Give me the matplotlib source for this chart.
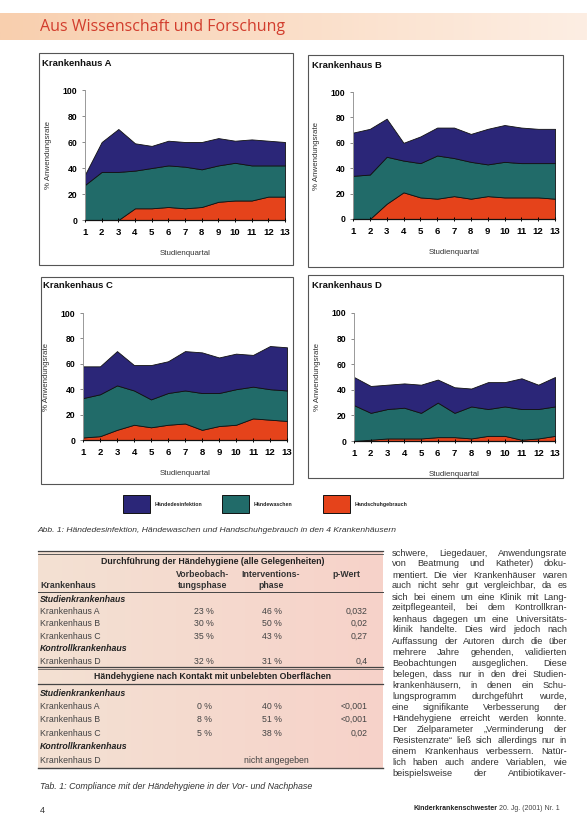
import matplotlib
matplotlib.use("Agg")
import matplotlib.pyplot as plt
import numpy as np
from matplotlib.patches import Rectangle
from matplotlib.lines import Line2D

W, H = 587, 838
SANS = ["Liberation Sans", "DejaVu Sans"]
plt.rcParams["font.family"] = SANS

NAVY = "#2b2678"
TEAL = "#216b69"
RED = "#e5431b"

QUARTERS = list(range(1, 14))

# band heights in % Anwendungsrate (gloves bottom, washing middle, disinfection top)
gloves_a = [0, 0, 0, 9, 9, 10, 9, 10, 14, 15, 15, 18, 18]
washing_a = [27, 37, 37, 29, 31, 32, 32, 29, 28, 29, 27, 24, 24]
disinf_a = [8, 23, 33, 21, 17, 19, 19, 21, 21, 17, 20, 19, 18]

gloves_b = [0, 0, 12, 21, 17, 16, 18, 16, 18, 17, 17, 17, 16]
washing_b = [34, 35, 37, 25, 27, 34, 30, 29, 25, 28, 27, 27, 28]
disinf_b = [34, 36, 30, 14, 21, 22, 24, 22, 28, 29, 28, 27, 27]

gloves_c = [2, 3, 8, 12, 10, 12, 13, 8, 11, 12, 17, 16, 15]
washing_c = [31, 33, 35, 27, 22, 25, 26, 29, 26, 28, 25, 24, 24]
disinf_c = [25, 22, 27, 20, 27, 25, 31, 32, 28, 28, 25, 34, 34]

gloves_d = [0, 1, 2, 2, 2, 3, 3, 2, 4, 4, 1, 2, 4]
washing_d = [28, 21, 23, 24, 20, 27, 19, 25, 21, 23, 24, 23, 23]
disinf_d = [22, 21, 19, 19, 22, 18, 20, 14, 21, 19, 24, 19, 23]

LEGEND_LABELS = ["Händedesinfektion", "Händewaschen", "Handschuhgebrauch"]

# table 1
TABLE_HEAD_1 = "Durchführung der Händehygiene (alle Gelegenheiten)"
TABLE_HEAD_2 = "Händehygiene nach Kontakt mit unbelebten Oberflächen"
rows_all = [
    ("Studienkrankenhaus", None, None, None),
    ("Krankenhaus A", "23 %", "46 %", "0,032"),
    ("Krankenhaus B", "30 %", "50 %", "0,02"),
    ("Krankenhaus C", "35 %", "43 %", "0,27"),
    ("Kontrollkrankenhaus", None, None, None),
    ("Krankenhaus D", "32 %", "31 %", "0,4"),
]
rows_surface = [
    ("Studienkrankenhaus", None, None, None),
    ("Krankenhaus A", "0 %", "40 %", "<0,001"),
    ("Krankenhaus B", "8 %", "51 %", "<0,001"),
    ("Krankenhaus C", "5 %", "38 %", "0,02"),
    ("Kontrollkrankenhaus", None, None, None),
    ("Krankenhaus D", "nicht angegeben", None, None),
]

BODY_LINES = [
    "schwere, Liegedauer, Anwendungsrate",
    "von Beatmung und Katheter) doku-",
    "mentiert. Die vier Krankenhäuser waren",
    "auch nicht sehr gut vergleichbar, da es",
    "sich bei einem um eine Klinik mit Lang-",
    "zeitpflegeanteil, bei dem Kontrollkran-",
    "kenhaus dagegen um eine Universitäts-",
    "klinik handelte. Dies wird jedoch nach",
    "Auffassung der Autoren durch die über",
    "mehrere Jahre gehenden, validierten",
    "Beobachtungen ausgeglichen. Diese",
    "belegen, dass nur in den drei Studien-",
    "krankenhäusern, in denen ein Schu-",
    "lungsprogramm durchgeführt wurde,",
    "eine signifikante Verbesserung der",
    "Händehygiene erreicht werden konnte.",
    "Der Zielparameter „Verminderung der",
    "Resistenzrate“ ließ sich allerdings nur in",
    "einem Krankenhaus verbessern. Natür-",
    "lich haben auch andere Variablen, wie",
    "beispielsweise der Antibiotikaver-",
]


def fx(px):
    return px / W


def fy(py):
    return 1 - py / H


fig = plt.figure(figsize=(W / 100, H / 100), dpi=100)
fig.patch.set_facecolor("white")


def put(x, y, s, **kw):
    kw.setdefault("va", "center")
    return fig.text(fx(x), fy(y), s, **kw)


def gradient(x0, y0, x1, y1, c_left, c_right):
    ax = fig.add_axes([fx(x0), fy(y1), fx(x1) - fx(x0), (y1 - y0) / H])
    left = np.array(matplotlib.colors.to_rgb(c_left))
    right = np.array(matplotlib.colors.to_rgb(c_right))
    t = np.linspace(0, 1, 200)[None, :, None]
    img = left + (right - left) * t
    ax.imshow(img, aspect="auto", extent=(0, 1, 0, 1))
    ax.set_axis_off()
    return ax


def hline(x0, x1, y, lw=0.8, color="#444444"):
    fig.add_artist(Line2D([fx(x0), fx(x1)], [fy(y), fy(y)], lw=lw, color=color,
                          transform=fig.transFigure))


# header band
gradient(0, 13, W, 40, "#f8cfae", "#fdeee3")
put(40, 27, "Aus Wissenschaft und Forschung", color="#d23d2d", fontsize=11.5,
    family=["Open Sans", "DejaVu Sans"])


def draw_chart(axis_px, box_px, title, title_xy, gloves, washing, disinf):
    bx0, by0, bx1, by1 = box_px
    fig.add_artist(Rectangle((fx(bx0), fy(by1)), fx(bx1) - fx(bx0), (by1 - by0) / H,
                             transform=fig.transFigure, fill=False,
                             edgecolor="#555555", lw=0.8))
    put(title_xy[0], title_xy[1], title, fontsize=6.8, fontweight="bold", color="#111111")

    l, t, r, b = axis_px
    ax = fig.add_axes([fx(l), fy(b), fx(r) - fx(l), (b - t) / H])
    ax.stackplot(QUARTERS, gloves, washing, disinf, colors=[RED, TEAL, NAVY],
                 edgecolor="#111111", linewidth=0.6)
    ax.set_xlim(1, 13)
    ax.set_ylim(0, 100)
    ax.set_xticks(QUARTERS)
    ax.set_yticks(range(0, 101, 20))
    for side in ("top", "right"):
        ax.spines[side].set_visible(False)
    ax.spines["left"].set_color("#999999")
    ax.spines["left"].set_linewidth(0.7)
    ax.spines["bottom"].set_color("#111111")
    ax.spines["bottom"].set_linewidth(0.9)
    ax.tick_params(axis="y", length=2, width=0.6, pad=3.5, labelsize=6.2, color="#777777")
    ax.tick_params(axis="x", length=3, width=0.7, direction="inout", pad=4.5, labelsize=6.8)
    for lab in ax.get_xticklabels() + ax.get_yticklabels():
        lab.set_fontweight("bold")
    ax.set_ylabel("% Anwendungsrate", fontsize=5.7, labelpad=8, color="#333333")
    ax.set_xlabel("Studienquartal", fontsize=5.7, labelpad=9, color="#333333")
    ax.set_facecolor("white")
    return ax


draw_chart((85, 90, 285, 220), (39, 53, 293, 265), "Krankenhaus A", (42, 64),
           gloves_a, washing_a, disinf_a)
draw_chart((353, 92, 555, 219), (308, 55, 563, 267), "Krankenhaus B", (312, 65),
           gloves_b, washing_b, disinf_b)
draw_chart((83, 313, 287, 440), (41, 277, 293, 484), "Krankenhaus C", (43, 286),
           gloves_c, washing_c, disinf_c)
draw_chart((354, 313, 555, 441), (308, 275, 563, 478), "Krankenhaus D", (312, 286),
           gloves_d, washing_d, disinf_d)

# legend
for x0, color, label in zip((123, 222, 323), (NAVY, TEAL, RED), LEGEND_LABELS):
    fig.add_artist(Rectangle((fx(x0), fy(513)), 27 / W, 18 / H, transform=fig.transFigure,
                             facecolor=color, edgecolor="#111111", lw=0.7))
    put(x0 + 32, 504, label, fontsize=3.8, fontweight="bold", color="#222222")

put(37, 530, "Abb. 1: Händedesinfektion, Händewaschen und Handschuhgebrauch in den 4 Krankenhäusern",
    fontsize=6.1, style="italic", color="#333333")

# table 1
gradient(38, 551, 383, 769, "#f3e1d3", "#f7d2c9")
hline(38, 383, 551, lw=0.9)
hline(38, 383, 554, lw=0.6)
put(213, 561, TABLE_HEAD_1, ha="center", fontsize=6.3, fontweight="bold", color="#222222")
put(203, 574, "Vorbeobach-", ha="center", fontsize=6.3, fontweight="bold", color="#333333")
put(203, 585, "tungsphase", ha="center", fontsize=6.3, fontweight="bold", color="#333333")
put(271, 574, "Interventions-", ha="center", fontsize=6.3, fontweight="bold", color="#333333")
put(271, 585, "phase", ha="center", fontsize=6.3, fontweight="bold", color="#333333")
put(346, 574, "p-Wert", ha="center", fontsize=6.3, fontweight="bold", color="#333333")
put(40, 585, "Krankenhaus", fontsize=6.3, fontweight="bold", color="#333333")
hline(38, 383, 592, lw=0.7)


def table_rows(rows, y0, dy):
    for i, (name, pre, post, p) in enumerate(rows):
        y = y0 + i * dy
        if pre is None:
            put(40, y, name, fontsize=6.3, fontweight="bold", style="italic", color="#222222")
            continue
        put(40, y, name, fontsize=6.3, color="#444444")
        if post is None:
            put(276, y, pre, ha="center", fontsize=6.3, color="#444444")
            continue
        put(204, y, pre, ha="center", fontsize=6.3, color="#444444")
        put(272, y, post, ha="center", fontsize=6.3, color="#444444")
        put(368, y, p, ha="right", fontsize=6.3, color="#444444")


table_rows(rows_all, 599, 12.4)
hline(38, 383, 667, lw=0.9)
hline(38, 383, 669, lw=0.5)
put(212, 676, TABLE_HEAD_2, ha="center", fontsize=6.3, fontweight="bold", color="#222222")
hline(38, 383, 684, lw=0.9)
table_rows(rows_surface, 693, 13.4)
hline(38, 383, 768, lw=1.0)

put(40, 786, "Tab. 1: Compliance mit der Händehygiene in der Vor- und Nachphase",
    fontsize=6.4, style="italic", color="#333333")
put(40, 810, "4", fontsize=6.5, color="#333333")

# body text, justified
renderer = fig.canvas.get_renderer()
x_left, x_right = 392, 567
for i, line in enumerate(BODY_LINES):
    y = 553 + i * 11
    words = line.split(" ")
    texts = [put(0, y, w, fontsize=6.7, color="#333333") for w in words]
    widths = [t.get_window_extent(renderer).width for t in texts]
    gap = (x_right - x_left - sum(widths)) / max(len(words) - 1, 1)
    x = x_left
    for t, w in zip(texts, widths):
        t.set_x(fx(x))
        x += w + gap

put(497, 808, "Kinderkrankenschwester", ha="right", fontsize=5, fontweight="bold",
    color="#222222")
put(499, 808, "20. Jg. (2001) Nr. 1", fontsize=5, color="#444444")

fig.savefig("out.png", dpi=100, facecolor="white")
